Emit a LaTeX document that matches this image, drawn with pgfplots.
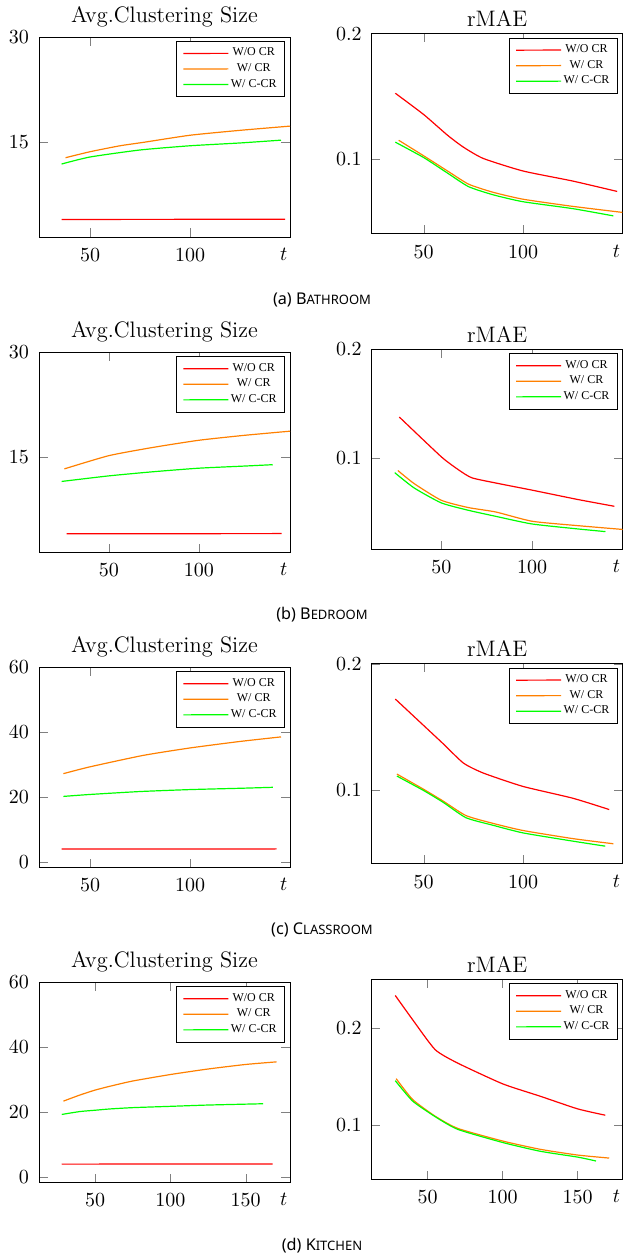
\documentclass[border=0pt]{standalone}
\usepackage{fontspec}
\usepackage{pgfplots}
\pgfplotsset{compat=1.18}
\newfontfamily\capfont{Noto Sans}
\newfontfamily\legfont{Liberation Serif}
\definecolor{cred}{RGB}{255,0,0}
\definecolor{corange}{RGB}{255,128,0}
\definecolor{cgreen}{RGB}{0,255,0}
\newcommand\subcap[3]{{\capfont\fontsize{8.1}{9}\selectfont (#1) #2{\fontsize{6.5}{7}\selectfont #3}}}
\pgfplotsset{
 common/.style={width=125.5pt,height=100pt,scale only axis,anchor=north west,
  xlabel={$t$},
  xlabel style={at={(rel axis cs:0.975,0)},anchor=north,yshift=-2.0pt},
  xticklabel style={yshift=-2.3pt},
  yticklabel style={xshift=-1.5pt},
  legend style={at={(0.98,0.98)},anchor=north east,font=\legfont\fontsize{6}{7}\selectfont,
    draw=black,inner xsep=3pt,inner ysep=2.3pt,
    nodes={inner xsep=1pt,inner ysep=1pt},row sep=0.3pt},
  legend cell align=center,
  legend image code/.code={\draw[#1,line width=0.6pt] (0pt,0pt) -- (22.5pt,0.06pt);},
  every axis plot/.append style={line width=0.6pt,smooth,tension=0.35},
  title style={font=\fontsize{11.2}{13}\selectfont,at={(0.5,1)},anchor=base},
 },
 leftp/.style={common,title={Avg.Clustering Size},title style={yshift=1.3pt}},
 rightp/.style={common,title={rMAE},title style={yshift=-2.4pt}},
}
\begin{document}
\begin{tikzpicture}
\useasboundingbox (0,0) rectangle (312pt,-628.5pt);
% ---------------- (a) Bathroom
\begin{axis}[leftp,at={(19.5pt,-18.5pt)},xmin=24.5,xmax=150,ymin=1.5,ymax=30,
  xtick={50,100},ytick={15,30}]
\addplot[cred,sharp plot] coordinates {(35.8,4)(147.5,4.03)};
\addplot[corange] coordinates {(37.8,12.8)(50,13.65)(65,14.5)(77,15.0)(100,16.0)(125,16.7)(150,17.3)};
\addplot[cgreen] coordinates {(35.8,11.9)(50,12.9)(75,13.9)(100,14.5)(125,14.9)(145.5,15.3)};
\legend{W/O CR,W/ CR,W/ C-CR}
\end{axis}
\begin{axis}[rightp,at={(185.85pt,-16.85pt)},xmin=23.8,xmax=150.2,ymin=0.0405,ymax=0.2,
  xtick={50,100},ytick={0.1,0.2}]
\addplot[cred] coordinates {(35.7,0.1525)(50,0.1355)(62,0.119)(70,0.1095)(80,0.1005)(100,0.0905)(125,0.0825)(147.4,0.0742)};
\addplot[corange] coordinates {(37.4,0.115)(50,0.1026)(62,0.0905)(72.6,0.080)(85,0.0735)(100,0.068)(125,0.0623)(150,0.0575)};
\addplot[cgreen] coordinates {(35.7,0.1135)(50,0.1012)(62,0.0888)(72.6,0.078)(85,0.0715)(100,0.066)(125,0.0605)(145.5,0.0547)};
\legend{W/O CR,W/ CR,W/ C-CR}
\end{axis}
\node[anchor=base] at (161pt,-152pt) {\subcap{a}{B}{ATHROOM}};
% ---------------- (b) Bedroom
\begin{axis}[leftp,at={(19.5pt,-176.15pt)},xmin=11.1,xmax=150.6,ymin=1.35,ymax=30,
  xtick={50,100},ytick={15,30}]
\addplot[cred,sharp plot] coordinates {(26.5,4)(145.9,4.03)};
\addplot[corange] coordinates {(25.2,13.3)(50,15.2)(75,16.4)(100,17.4)(125,18.1)(150.6,18.7)};
\addplot[cgreen] coordinates {(23.7,11.5)(50,12.3)(75,12.9)(100,13.4)(125,13.7)(141,13.9)};
\legend{W/O CR,W/ CR,W/ C-CR}
\end{axis}
\begin{axis}[rightp,at={(185.85pt,-174.65pt)},xmin=11.6,xmax=150,ymin=0.0168,ymax=0.2,
  xtick={50,100},ytick={0.1,0.2}]
\addplot[cred] coordinates {(26.8,0.138)(50,0.1015)(60,0.089)(67,0.0822)(81.6,0.077)(100,0.071)(125,0.0625)(145.4,0.0562)};
\addplot[corange] coordinates {(26,0.089)(35,0.077)(50,0.0617)(65,0.055)(80,0.051)(100,0.0425)(125,0.0385)(150,0.035)};
\addplot[cgreen] coordinates {(24.3,0.087)(35,0.073)(50,0.0593)(65,0.0525)(80,0.047)(100,0.040)(125,0.0355)(140.5,0.033)};
\legend{W/O CR,W/ CR,W/ C-CR}
\end{axis}
\node[anchor=base] at (161pt,-309.65pt) {\subcap{b}{B}{EDROOM}};
% ---------------- (c) Classroom
\begin{axis}[leftp,at={(19.5pt,-333.65pt)},xmin=24.5,xmax=150,ymin=-1.5,ymax=60,
  xtick={50,100},ytick={0,20,40,60}]
\addplot[cred,sharp plot] coordinates {(35.8,4.1)(143.3,4.16)};
\addplot[corange] coordinates {(36.7,27.3)(50,29.4)(76.5,32.9)(100,35.2)(125,37.2)(145.5,38.6)};
\addplot[cgreen] coordinates {(36.7,20.3)(50,20.9)(75,21.8)(100,22.4)(125,22.8)(141.4,23.1)};
\legend{W/O CR,W/ CR,W/ C-CR}
\end{axis}
\begin{axis}[rightp,at={(185.85pt,-331.85pt)},xmin=23.8,xmax=150.2,ymin=0.0416,ymax=0.2,
  xtick={50,100},ytick={0.1,0.2}]
\addplot[cred] coordinates {(35.7,0.172)(50,0.151)(60,0.1363)(70,0.1213)(80,0.1134)(100,0.1028)(125,0.0935)(143.4,0.0845)};
\addplot[corange] coordinates {(36.5,0.1126)(50,0.1005)(60,0.091)(71.3,0.0797)(85,0.0735)(100,0.0679)(125,0.0615)(145.5,0.0574)};
\addplot[cgreen] coordinates {(36.5,0.111)(50,0.0995)(60,0.090)(71.3,0.078)(85,0.0720)(100,0.066)(125,0.0595)(141.4,0.0555)};
\legend{W/O CR,W/ CR,W/ C-CR}
\end{axis}
\node[anchor=base] at (161pt,-467pt) {\subcap{c}{C}{LASSROOM}};
% ---------------- (d) Kitchen
\begin{axis}[leftp,at={(19.5pt,-491.15pt)},xmin=12.8,xmax=179.4,ymin=-1.6,ymax=60,
  xtick={50,100,150},ytick={0,20,40,60}]
\addplot[cred,sharp plot] coordinates {(27.9,4)(167.9,4.06)};
\addplot[corange] coordinates {(29,23.4)(40,25.3)(50,26.8)(60,28.0)(75,29.6)(100,31.6)(125,33.3)(150,34.7)(170.5,35.5)};
\addplot[cgreen] coordinates {(27.9,19.3)(40,20.2)(50,20.6)(60,21.0)(75,21.4)(100,21.8)(125,22.2)(161.6,22.6)};
\legend{W/O CR,W/ CR,W/ C-CR}
\end{axis}
\begin{axis}[rightp,at={(185.85pt,-489.65pt)},xmin=12.7,xmax=180,ymin=0.0447,ymax=0.25,
  xtick={50,100,150},ytick={0.1,0.2}]
\addplot[cred] coordinates {(28.4,0.2334)(40,0.2085)(55,0.1778)(70,0.164)(100,0.1427)(125,0.130)(150,0.117)(168.4,0.1105)};
\addplot[corange] coordinates {(29,0.148)(40,0.1266)(55,0.1095)(70,0.097)(100,0.084)(125,0.0755)(150,0.0696)(171,0.0665)};
\addplot[cgreen] coordinates {(28.4,0.146)(40,0.125)(55,0.109)(70,0.096)(100,0.0825)(125,0.0735)(150,0.0675)(162.2,0.0635)};
\legend{W/O CR,W/ CR,W/ C-CR}
\end{axis}
\node[anchor=base] at (161pt,-625pt) {\subcap{d}{K}{ITCHEN}};
\end{tikzpicture}
\end{document}
